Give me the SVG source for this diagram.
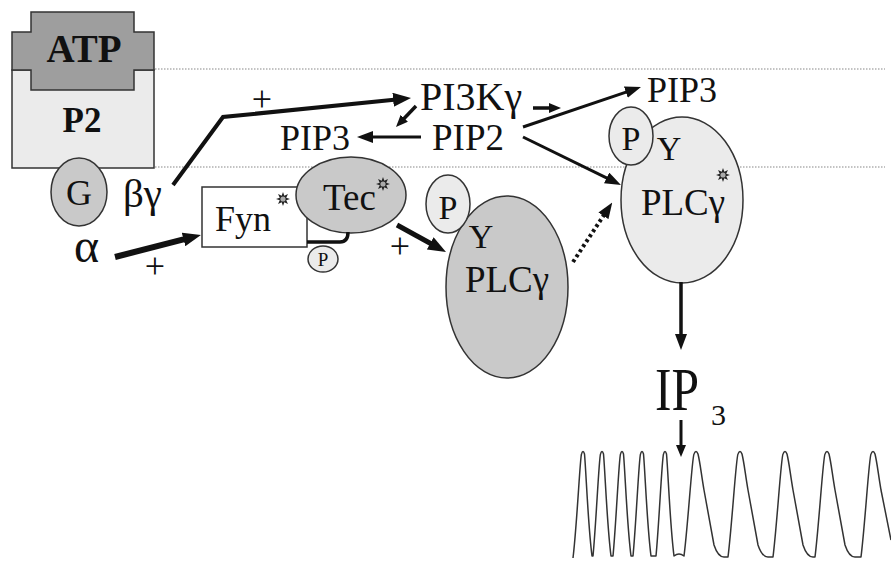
<svg xmlns="http://www.w3.org/2000/svg" xmlns:xlink="http://www.w3.org/1999/xlink" width="891" height="561" viewBox="0 0 891 561" font-family="'Liberation Serif', 'Times New Roman', serif">
<style>
text{font-family:"Liberation Serif","Times New Roman",serif;fill:#111;}
.mid{text-anchor:middle;}
.ln{stroke:#111;fill:none;stroke-linecap:butt;}
.mem{stroke:#888;stroke-width:1.2;stroke-dasharray:1.5 1.5;fill:none;}
.dark{fill:#c9c9c9;stroke:#333;stroke-width:1.5;}
.light{fill:#ebebeb;stroke:#333;stroke-width:1.5;}
</style>
<defs>
<marker id="A" markerUnits="userSpaceOnUse" markerWidth="18" markerHeight="14" refX="1" refY="7" orient="auto"><path d="M0,0 L18,7 L0,14 z" fill="#111"/></marker>
<marker id="B" markerUnits="userSpaceOnUse" markerWidth="16" markerHeight="12" refX="1" refY="6" orient="auto"><path d="M0,0 L16,6 L0,12 z" fill="#111"/></marker>
<marker id="C" markerUnits="userSpaceOnUse" markerWidth="12" markerHeight="10" refX="1" refY="5" orient="auto"><path d="M0,0 L12,5 L0,10 z" fill="#111"/></marker>
<g id="burst"><polygon points="7,0 3.23,1.34 4.95,4.95 1.34,3.23 0,7 -1.34,3.23 -4.95,4.95 -3.23,1.34 -7,0 -3.23,-1.34 -4.95,-4.95 -1.34,-3.23 0,-7 1.34,-3.23 4.95,-4.95 3.23,-1.34" fill="#222"/><circle r="2.6" fill="#aaa"/></g>
</defs>
<rect width="891" height="561" fill="#fff"/>
<g id="membrane">
<line class="mem" x1="155" y1="69" x2="885" y2="69"/>
<line class="mem" x1="155" y1="167" x2="885" y2="167"/>
</g>
<g id="p2">
<rect x="12" y="70" width="142" height="98" fill="#ebebeb" stroke="#333" stroke-width="1.5"/>
<polygon points="31,12 134,12 134,32 154,32 154,70 134,70 134,90 31,90 31,70 12,70 12,32 31,32" fill="#9e9e9e" stroke="#333" stroke-width="1.5"/>
<text class="mid" x="84" y="62" font-size="39" font-weight="bold">ATP</text>
<text class="mid" x="82" y="132" font-size="35" font-weight="bold">P2</text>
</g>
<g id="g">
<ellipse class="dark" cx="79" cy="192" rx="28" ry="34"/>
<text class="mid" x="79" y="205" font-size="36">G</text>
</g>
<g id="bg"><text x="123" y="207" font-size="41">βγ</text></g>
<g id="alpha"><text x="74" y="262" font-size="48">α</text></g>
<g id="fyn">
<rect x="202" y="187" width="105" height="60" fill="#fff" stroke="#333" stroke-width="1.5"/>
<text x="215" y="231" font-size="36">Fyn</text>
<use xlink:href="#burst" x="283" y="199"/>
</g>
<g id="tec">
<ellipse class="dark" cx="351" cy="195" rx="55" ry="38"/>
<text x="323" y="210" font-size="37">Tec</text>
<use xlink:href="#burst" x="383" y="184"/>
</g>
<g id="psmall">
<ellipse class="light" cx="323" cy="259" rx="15" ry="13"/>
<text class="mid" x="323" y="266" font-size="19">P</text>
</g>
<g id="plc1">
<ellipse class="dark" cx="507" cy="287" rx="61" ry="91"/>
<ellipse class="light" cx="448" cy="204" rx="22" ry="29"/>
<text class="mid" x="448" y="219" font-size="34">P</text>
<text class="mid" x="481" y="248" font-size="34">Y</text>
<text class="mid" x="507" y="292" font-size="37">PLCγ</text>
</g>
<g id="plc2">
<ellipse class="light" cx="682" cy="200" rx="61" ry="83"/>
<ellipse class="light" cx="631" cy="136" rx="22" ry="29"/>
<text class="mid" x="631" y="150" font-size="34">P</text>
<text class="mid" x="669" y="160" font-size="34">Y</text>
<text class="mid" x="683" y="215" font-size="37">PLCγ</text>
<use xlink:href="#burst" x="723" y="175"/>
</g>
<g id="pi3k"><text x="420" y="110" font-size="40">PI3Kγ</text></g>
<g id="pip2"><text x="432" y="150" font-size="37">PIP2</text></g>
<g id="pip3a"><text x="280" y="150" font-size="36">PIP3</text></g>
<g id="pip3b"><text x="647" y="102" font-size="36">PIP3</text></g>
<g id="ip3">
<text x="655" y="410" font-size="62" textLength="44" lengthAdjust="spacingAndGlyphs">IP</text>
<text x="711" y="425" font-size="30">3</text>
</g>
<g id="trace">
<path fill="none" stroke="#333" stroke-width="1.5" stroke-linejoin="round" d="M573,558 C577,525 580,458 581.5,454 Q583,449 584.5,454 C586,470 588,525 592,556 L593,556 C596,525 599,458 600.5,454 Q602,449 603.5,454 C605,470 607,525 611,556 L613,556 C616,525 619,458 620.5,454 Q622,449 623.5,454 C625,470 627,525 631,556 L633,556 C636,525 639,458 640.5,454 Q642,449 643.5,454 C645,470 647,525 651,556 L656,556 C659,525 662,458 663.5,454 Q665,449 666.5,454 C668,470 670,525 674,556 Q679,552 684,556 C688,525 692,458 694,454 Q696,449 698,454 C700,462 701,472 704,490 L714,545 Q718,557 724,557 L728,557 C732,525 736,458 738,454 Q740,449 742,454 C744,462 745,472 748,490 L758,545 Q762,557 768,557 L773,557 C777,525 781,458 783,454 Q785,449 787,454 C789,462 790,472 793,490 L803,545 Q807,557 813,557 L815,557 C819,525 823,458 825,454 Q827,449 829,454 C831,462 832,472 835,490 L845,545 Q849,557 855,557 L861,557 C865,525 869,458 871,454 Q873,449 875,454 C877,462 878,472 881,490 L891,540"/>
</g>
<g id="connectors">
<line class="ln" x1="115" y1="257" x2="184.5" y2="239.2" stroke-width="6" marker-end="url(#A)"/>
<text class="mid" x="155" y="278" font-size="36">+</text>
<polyline class="ln" points="173,185 223,117 394.1,99.7" stroke-width="4" stroke-linejoin="miter" marker-end="url(#A)"/>
<text class="mid" x="262" y="111" font-size="36">+</text>
<line class="ln" x1="533" y1="108" x2="550" y2="108" stroke-width="3.5" marker-end="url(#C)"/>
<line class="ln" x1="416" y1="106" x2="403.6" y2="119" stroke-width="3.5" marker-end="url(#C)"/>
<line class="ln" x1="421" y1="137" x2="372" y2="137" stroke-width="3" marker-end="url(#B)"/>
<line class="ln" x1="523" y1="127" x2="626.8" y2="91.8" stroke-width="3" marker-end="url(#B)"/>
<line class="ln" x1="523" y1="137" x2="607.5" y2="178.4" stroke-width="3" marker-end="url(#B)"/>
<path class="ln" d="M307,242 H340 Q348,242 348,232" stroke-width="3.5"/>
<line class="ln" x1="397" y1="225" x2="431.1" y2="243.8" stroke-width="5" marker-end="url(#A)"/>
<text class="mid" x="400" y="258" font-size="36">+</text>
<line class="ln" x1="573" y1="262" x2="604" y2="215" stroke-width="4" stroke-dasharray="3 3" marker-end="url(#B)"/>
<line class="ln" x1="681" y1="282" x2="681" y2="335" stroke-width="3.5" marker-end="url(#B)"/>
<line class="ln" x1="681" y1="420" x2="681" y2="446" stroke-width="3" marker-end="url(#C)"/>
</g>
</svg>
